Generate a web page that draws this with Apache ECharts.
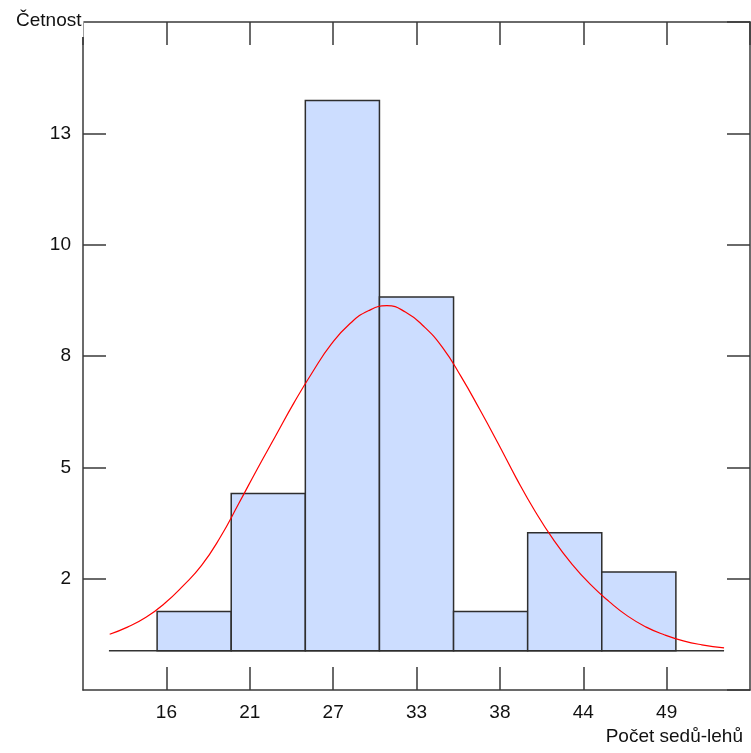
<!DOCTYPE html>
<html>
<head>
<meta charset="utf-8">
<title>Četnost – Počet sedů-lehů</title>
<script src="https://cdn.jsdelivr.net/npm/echarts@6/dist/echarts.min.js"></script>
<style>
  html, body { margin: 0; padding: 0; background: #fff; }
  #chart { width: 751px; height: 753px; }
</style>
</head>
<body>
<div id="chart"></div>
<script>
// Histogram bins (lower / upper edges) and counts
const binLower = [15, 20, 25, 30, 35, 40, 45];
const binUpper = [20, 25, 30, 35, 40, 45, 50];
const counts = [1, 4, 14, 9, 1, 3, 2];

// Fitted normal curve, sampled points [x, expected count]
const curveX = [11.8, 13, 14.25, 15.5, 16.75, 18, 19.25, 20.5, 21.75, 23, 24.25, 25.5, 26.75, 28, 29.25, 30.5, 31.75, 33, 34.25, 35.5, 36.75, 38, 39.25, 40.5, 41.75, 43, 44.25, 45.5, 46.75, 48, 49.25, 50.5, 51.75, 53.25];
const curveY = [0.42, 0.60, 0.85, 1.20, 1.65, 2.17, 2.88, 3.74, 4.62, 5.47, 6.32, 7.10, 7.80, 8.32, 8.65, 8.78, 8.62, 8.25, 7.72, 6.98, 6.15, 5.28, 4.38, 3.55, 2.82, 2.20, 1.68, 1.25, 0.88, 0.60, 0.40, 0.25, 0.15, 0.07];

// Baseline under the histogram
const baseX = [11.75, 53.25];
const baseY = [0, 0];

// Axis scales
const xMin = 10, xMax = 55, xStep = 5.625;
const yMin = -1, yMax = 16, yStep = 17 / 6;

const FONT = '"Liberation Sans", Arial, sans-serif';
const AXIS_COLOR = '#3a3a3a';
const TEXT_COLOR = '#111';

const chart = echarts.init(document.getElementById('chart'), null, { renderer: 'canvas' });

const roundLabel = v => String(Math.round(v));

function xAxisDef(pos, labels) {
  return {
    type: 'value', position: pos, min: xMin, max: xMax, interval: xStep,
    axisLine: { show: true, onZero: false, lineStyle: { color: AXIS_COLOR, width: 1.5 } },
    axisTick: { show: true, inside: true, length: 23, lineStyle: { color: AXIS_COLOR, width: 1.5 } },
    axisLabel: {
      show: labels, formatter: roundLabel, margin: 13,
      showMinLabel: false, showMaxLabel: false,
      color: TEXT_COLOR, fontSize: 19, fontFamily: FONT
    },
    splitLine: { show: false }
  };
}

function yAxisDef(pos, labels) {
  return {
    type: 'value', position: pos, min: yMin, max: yMax, interval: yStep,
    axisLine: { show: true, onZero: false, lineStyle: { color: AXIS_COLOR, width: 1.5 } },
    axisTick: { show: true, inside: true, length: 23, lineStyle: { color: AXIS_COLOR, width: 1.5 } },
    axisLabel: {
      show: labels, formatter: roundLabel, margin: 12,
      showMinLabel: false, showMaxLabel: false,
      color: TEXT_COLOR, fontSize: 19, fontFamily: FONT
    },
    splitLine: { show: false }
  };
}

const histData = binLower.map((lo, i) => [lo, binUpper[i], counts[i]]);
const curveData = curveX.map((x, i) => [x, curveY[i]]);
const baseData = baseX.map((x, i) => [x, baseY[i]]);

chart.setOption({
  animation: false,
  backgroundColor: '#fff',
  title: [
    {
      text: 'Četnost', left: 14, top: 9,
      padding: [2, 2, 7, 2], backgroundColor: '#fff',
      textStyle: { fontSize: 19, fontWeight: 'normal', color: TEXT_COLOR, fontFamily: FONT }
    },
    {
      text: 'Počet sedů-lehů', right: 8, top: 727, padding: 0,
      textStyle: { fontSize: 19, fontWeight: 'normal', color: TEXT_COLOR, fontFamily: FONT }
    }
  ],
  grid: { left: 83, right: 1, top: 22, bottom: 63, containLabel: false },
  xAxis: [xAxisDef('bottom', true), xAxisDef('top', false)],
  yAxis: [yAxisDef('left', true), yAxisDef('right', false)],
  series: [
    {
      type: 'line', data: baseData, symbol: 'none', z: 1,
      lineStyle: { color: '#333', width: 1.5 }
    },
    {
      type: 'custom', z: 2,
      data: histData,
      encode: { x: [0, 1], y: 2 },
      renderItem: function (params, api) {
        const topLeft = api.coord([api.value(0), api.value(2)]);
        const botRight = api.coord([api.value(1), 0]);
        return {
          type: 'rect',
          shape: {
            x: topLeft[0], y: topLeft[1],
            width: botRight[0] - topLeft[0],
            height: botRight[1] - topLeft[1]
          },
          style: { fill: '#CCDDFF', stroke: '#2e2e2e', lineWidth: 1.5 }
        };
      }
    },
    {
      type: 'line', data: curveData, smooth: true, symbol: 'none', z: 3,
      lineStyle: { color: '#ff0000', width: 1.2 }
    }
  ]
});
</script>
</body>
</html>
